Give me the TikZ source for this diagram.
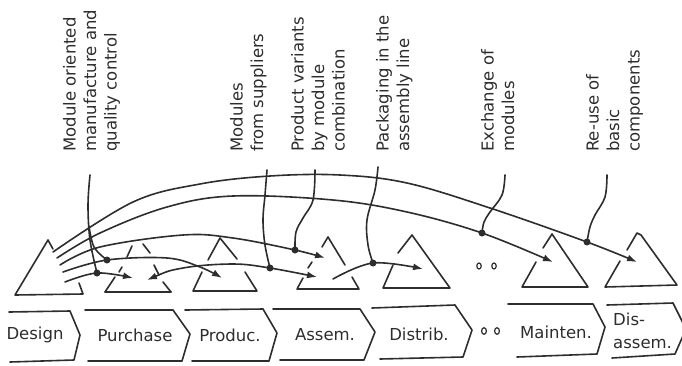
\documentclass[tikz,border=0pt]{standalone}
\usepackage{fontspec}
\setmainfont{DejaVu Sans}
\usetikzlibrary{arrows.meta}
\definecolor{ink}{RGB}{45,45,45}
\begin{document}
\begin{tikzpicture}[x=1pt,y=-1pt,
  ln/.style={draw=ink,line width=1.6pt,line cap=round,line join=round},
  arr/.style={ln,-{Latex[length=10pt,width=7pt]}},
  twoarr/.style={ln,{Latex[length=10pt,width=7pt]}-{Latex[length=10pt,width=7pt]}},
  dotn/.style={circle,fill=ink,inner sep=0pt,minimum size=7pt},
  lbl/.style={rotate=90,anchor=north west,align=left,inner sep=0pt,text=ink,
              font=\fontsize{16.5}{20.5}\selectfont},
  stage/.style={text=ink,font=\fontsize{16.5}{23}\selectfont,inner sep=0pt},
  ring/.style={draw=ink,line width=1.2pt}
]
\useasboundingbox (0,0) rectangle (682,365);
\clip (0,0) rectangle (682,365);

% ---------- rotated labels ----------
\node[lbl] (l1) at (63,152)  {Module oriented\\manufacture and\\quality control};
\node[lbl] (l2) at (230,152) {Modules\\from suppliers};
\node[lbl] (l3) at (291,152) {Product variants\\by module\\combination};
\node[lbl] (l4) at (376,152) {Packaging in the\\assembly line};
\node[lbl] (l5) at (481,152) {Exchange of\\modules};
\node[lbl] (l6) at (586,152) {Re-use of\\basic\\components};

% ---------- process chevrons ----------
\draw[ln] (9,312)--(70,311)--(80,335)--(74,360)--(10,362);
\draw[ln] (85,310)--(173,310)--(190,334)--(182,361)--(88,361);
\draw[ln] (185,310)--(263,309)--(277,333)--(269,361)--(192,361);
\draw[ln] (273,309)--(360,309)--(375,332)--(364,360)--(280,360);
\draw[ln] (372,308)--(455,305)--(472,330)--(463,357)--(380,359);
\draw[ln] (508,304)--(593,304)--(605,327)--(597,354)--(517,357);
\draw[ln] (607,305)--(673,303)--(686,329)--(675,354)--(612,358);

\node[stage] (t1) at (35,335)  {Design};
\node[stage] (t2) at (135,335) {Purchase};
\node[stage] (t3) at (230,335) {Produc.};
\node[stage] (t4) at (325,335) {Assem.};
\node[stage] (t5) at (419,334) {Distrib.};
\node[stage] (t6) at (556,332) {Mainten.};
\node[stage,align=left,anchor=west] (t7) at (613,331) {Dis-\\assem.};

\draw[ring] (484,331) ellipse [x radius=2.4, y radius=3.3];
\draw[ring] (497,331) ellipse [x radius=2.4, y radius=3.3];

% ---------- module triangles ----------
% design
\draw[ln] (53,249)--(48,240)--(15,295)--(83,294)--(79,283);
% purchase (dashed sides)
\draw[ln] (105,292)--(171,292);
\draw[ln] (132,246)--(127,257) (122,267)--(119,272) (115,277)--(105,292);
\draw[ln] (143,244)--(150,253) (154,265)--(159,275) (163,282)--(171,292);
% production
\draw[ln] (208,260)--(220,238)--(237,259);
\draw[ln] (202,272)--(193,291)--(257,291)--(245,272);
% assembly
\draw[ln] (322,247)--(328,237)--(345,265);
\draw[ln] (312,262)--(308,268);
\draw[ln] (303,278)--(297,289)--(359,289)--(352,277);
% distribution
\draw[ln] (398,253)--(412,235)--(450,288)--(383,288)--(393,265);
% maintenance
\draw[ln] (543,248)--(552,234)--(588,287)--(522,287)--(536,262);
% disassembly
\draw[ln] (627,250)--(637,233)--(641,235)--(677,285)--(605,287)--(620,261);

\draw[ring] (479,266) ellipse [x radius=2.2, y radius=3];
\draw[ring] (494,266) ellipse [x radius=2.2, y radius=3];

% ---------- junction points ----------
\coordinate (p1) at (587,242);
\coordinate (p2) at (482,233);
\coordinate (p3) at (295,250);
\coordinate (p4) at (107,260);
\coordinate (p5) at (97,273);
\coordinate (p6) at (270,268);
\coordinate (p7) at (373,263);

% ---------- flows ----------
\draw[arr] plot[smooth,tension=0.6] coordinates
  {(53,252) (133,202) (200,184) (270,176) (340,175) (407,183) (490,208) (p1) (637,262)};
\draw[arr] plot[smooth,tension=0.6] coordinates
  {(57,258) (100,233) (167,207) (233,196) (333,200) (407,212) (p2) (553,262)};
\draw[arr] plot[smooth,tension=0.6] coordinates
  {(60,265) (100,247) (183,235) (233,238) (p3) (325,258)};
\draw[arr] plot[smooth,tension=0.6] coordinates
  {(63,272) (p4) (167,258) (200,267) (222,278)};
\draw[arr] plot[smooth,tension=0.6] coordinates
  {(65,282) (p5) (133,278)};
\draw[twoarr] plot[smooth,tension=0.6] coordinates
  {(147,280) (183,268) (233,264) (p6) (317,277)};
\draw[arr] plot[smooth,tension=0.6] coordinates
  {(333,279) (p7) (423,269)};

% ---------- leader lines ----------
\draw[ln] plot[smooth,tension=0.6] coordinates {(90,175) (88,205) (90,240) (p5)};
\draw[ln] plot[smooth,tension=0.6] coordinates {(89,226) (94,247) (p4)};
\draw[ln] plot[smooth,tension=0.6] coordinates {(267,170) (265,195) (263,220) (265,245) (p6)};
\draw[ln] plot[smooth,tension=0.6] coordinates {(315,170) (313,200) (303,218) (296,232) (p3)};
\draw[ln] plot[smooth,tension=0.6] coordinates {(378,167) (375,190) (367,220) (368,245) (p7)};
\draw[ln] plot[smooth,tension=0.6] coordinates {(505,175) (502,195) (490,212) (484,222) (p2)};
\draw[ln] plot[smooth,tension=0.6] coordinates {(607,175) (605,197) (595,215) (590,227) (p1)};

\foreach \p in {p1,p2,p3,p4,p5,p6,p7} \node[dotn] (d\p) at (\p) {};
\end{tikzpicture}
\end{document}
